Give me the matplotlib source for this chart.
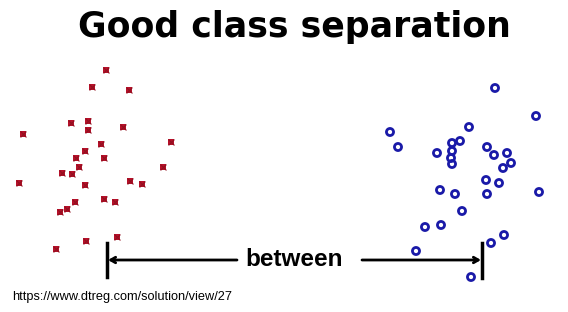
import matplotlib.pyplot as plt

# point positions (pixel space, y grows downward)
red_x = [106, 92, 129, 71, 88, 88, 123, 23, 171, 101, 85, 76, 104, 79, 163,
         62, 72, 19, 85, 130, 142, 75, 104, 115, 67, 60, 86, 117, 56]
red_y = [70, 87, 90, 123, 121, 130, 127, 134, 142, 144, 151, 158, 158, 167, 167,
         173, 174, 183, 185, 181, 184, 202, 199, 202, 209, 212, 241, 237, 249]

blue_x = [495, 536, 390, 398, 469, 460, 452, 452, 437, 451, 452, 487, 494, 507, 511,
          503, 486, 499, 440, 455, 487, 539, 462, 425, 441, 504, 491, 416, 471]
blue_y = [88, 116, 132, 147, 127, 141, 143, 151, 153, 158, 164, 147, 155, 153, 163,
          168, 180, 183, 190, 194, 194, 192, 211, 227, 225, 235, 243, 251, 277]

title = "Good class separation"
gap_label = "between"
source = "https://www.dtreg.com/solution/view/27"

fig = plt.figure(figsize=(5.68, 3.12), dpi=100)
ax = fig.add_axes([0, 0, 1, 1])
ax.set_xlim(0, 568)
ax.set_ylim(312, 0)
ax.axis("off")

ax.scatter(red_x, red_y, marker="s", s=24, color="#b8102a", linewidths=0)
ax.scatter(red_x, red_y, marker="x", s=18, color="#901020", linewidths=0.8)
ax.scatter(blue_x, blue_y, marker="o", s=26, facecolors="none",
           edgecolors="#1a1aa8", linewidths=2)

# separation arrow
ax.plot([107, 107], [243, 277], color="black", lw=2.5)
ax.plot([482, 482], [243, 278], color="black", lw=2.5)
ax.annotate("", xy=(108, 260), xytext=(237, 260),
            arrowprops=dict(arrowstyle="->,head_length=0.35,head_width=0.2",
                            color="black", lw=2, shrinkA=0, shrinkB=0))
ax.annotate("", xy=(481, 260), xytext=(362, 260),
            arrowprops=dict(arrowstyle="->,head_length=0.35,head_width=0.2",
                            color="black", lw=2, shrinkA=0, shrinkB=0))
ax.text(294, 260, gap_label, ha="center", va="center", fontsize=17.5,
        fontweight="bold", family="Liberation Sans")

ax.text(294, 37, title, ha="center", va="baseline", fontsize=25,
        fontweight="bold", family="DejaVu Sans")
ax.text(12, 297, source, ha="left", va="center", fontsize=9.2,
        family="Liberation Sans")

fig.savefig("out.png", dpi=100)
